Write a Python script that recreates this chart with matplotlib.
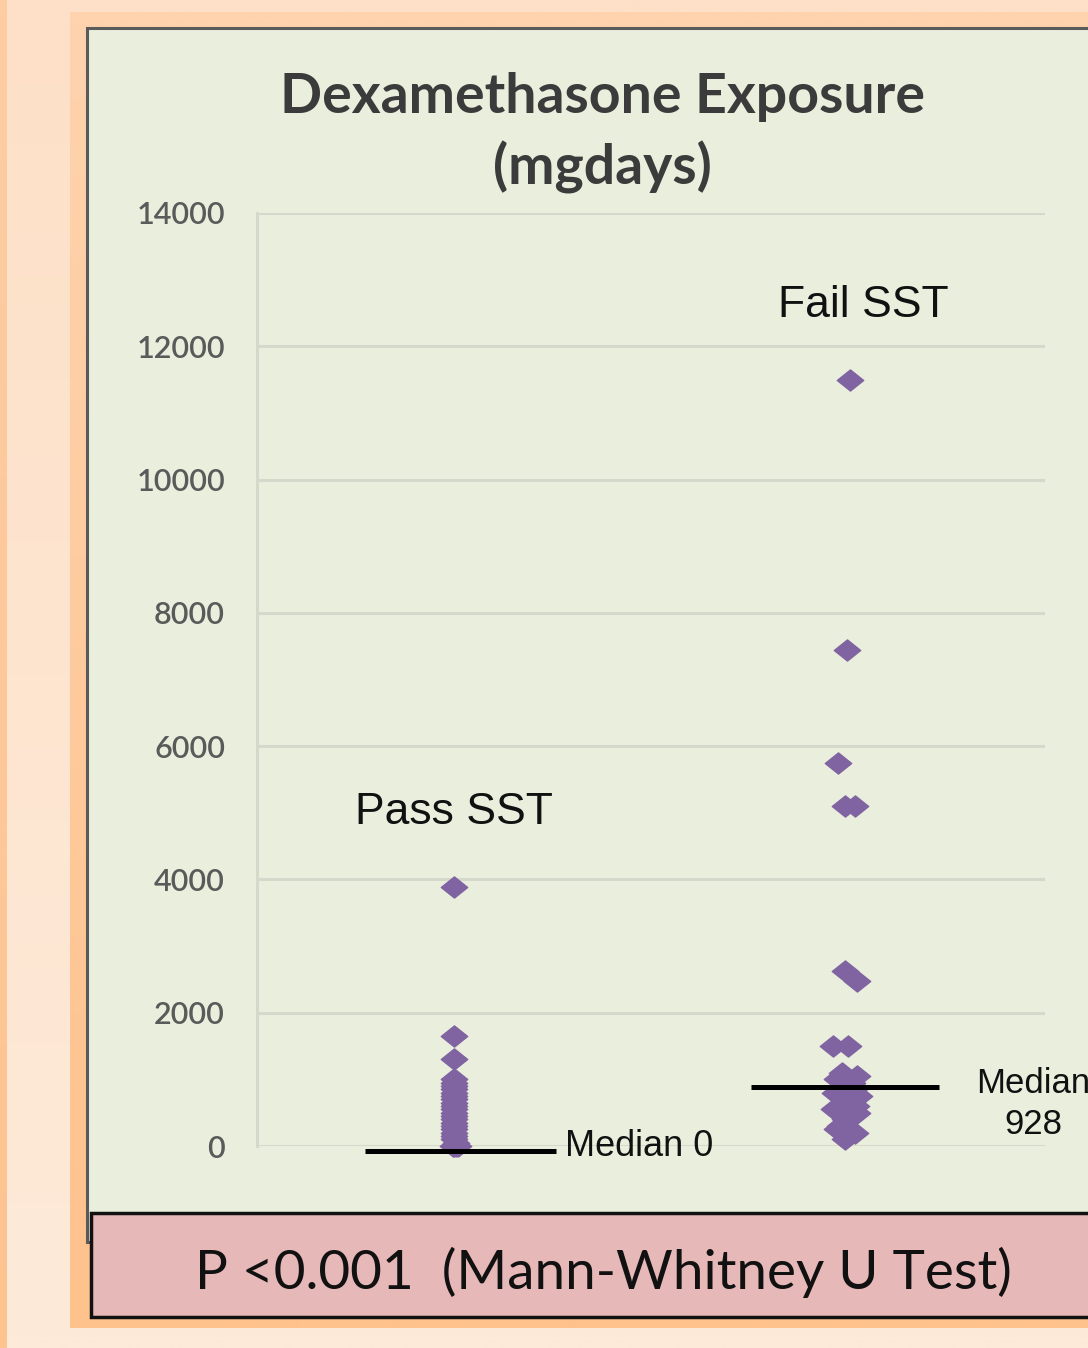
import numpy as np
import matplotlib
matplotlib.use("Agg")
import matplotlib.pyplot as plt
from matplotlib.path import Path
from matplotlib.patches import Rectangle

# ---------------- data ----------------
categories = ["Pass SST", "Fail SST"]
cat_pos = [1, 3]
pass_vals = [3880, 1650, 1300, 1000, 950, 900, 850, 800, 750, 700, 650, 600, 550, 500,
             450, 400, 350, 300, 250, 200, 150, 100, 50, 0, 0, 0, 0]
pass_x = [1.0, 1.0, 1.0, 1.0, 1.0, 1.0, 1.0, 1.0, 1.0, 1.0, 1.0, 1.0, 1.0, 1.0,
          1.0, 1.0, 1.0, 1.0, 1.0, 1.0, 1.0, 1.0, 1.01, 0.995, 1.01, 1.0, 1.02]
fail_vals = [11500, 7450, 5750, 5100, 5100, 2620, 2480, 1500, 1500,
             1100, 1050, 1000, 950, 900, 850, 800, 750, 650, 600, 550, 500, 400, 300,
             250, 200, 100]
fail_x = [3.01, 2.995, 2.95, 2.985, 3.035, 2.985, 3.045, 2.925, 3.0,
          2.97, 3.045, 2.945, 3.02, 2.995, 3.03, 2.935, 3.055, 2.995, 3.04, 2.93, 3.045,
          2.985, 2.96, 2.945, 3.035, 2.985]
medians = [0, 928]
median_labels = ["Median 0", "Median\n928"]
yticks = [0, 2000, 4000, 6000, 8000, 10000, 12000, 14000]
title = "Dexamethasone Exposure\n(mgdays)"
ptext = "P <0.001  (Mann-Whitney U Test)"

W, H = 1088, 1348
fig = plt.figure(figsize=(W / 100, H / 100), dpi=100)

# ---------------- background (pixel coordinates) ----------------
bg = fig.add_axes([0, 0, 1, 1], zorder=0)
bg.set_xlim(0, W)
bg.set_ylim(H, 0)
bg.axis("off")

def grad(x0, y0, x1, y1, ctop, cbot, z):
    ct = np.array(matplotlib.colors.to_rgb(ctop))
    cb = np.array(matplotlib.colors.to_rgb(cbot))
    t = np.linspace(0, 1, 64)[:, None]
    img = (ct * (1 - t) + cb * t)[:, None, :]
    bg.imshow(img, extent=(x0, x1, y1, y0), aspect="auto", zorder=z, interpolation="bilinear")

grad(0, 0, W, H, "#fde0c7", "#feead9", 1)
grad(0, 0, 7, H, "#fdcda4", "#fdc490", 2)
grad(70, 12, W, 1328, "#fed3ae", "#fec28d", 3)
bg.add_patch(Rectangle((87, 28), W - 87 + 5, 1212 - 28 + 30, facecolor="#eaeedd",
                       edgecolor="#5a5a5a", lw=2.2, zorder=4))
bg.add_patch(Rectangle((91, 1213), W - 91 + 10, 1317 - 1213, facecolor="#e6b8b7",
                       edgecolor="#111111", lw=2.5, zorder=5))
bg.set_xlim(0, W)
bg.set_ylim(H, 0)

def fit_text(t, target_w):
    r = fig.canvas.get_renderer()
    w = t.get_window_extent(r).width
    t.set_fontsize(t.get_fontsize() * target_w / w)

# P text
pt = bg.text(603, 1272, ptext, ha="center", va="center", fontsize=30,
             family=["Lato", "DejaVu Sans"], color="#111111", zorder=6)
fit_text(pt, 817)

# Title
tt1 = fig.text(602 / W, 1 - 97 / H, title.split("\n")[0], ha="center", va="center",
               fontsize=30, family=["Lato", "DejaVu Sans"], weight="bold", color="#3b3b3b")
fit_text(tt1, 645)
tt2 = fig.text(602 / W, 1 - 167 / H, title.split("\n")[1], ha="center", va="center",
               fontsize=tt1.get_fontsize(), family=["Lato", "DejaVu Sans"], weight="bold",
               color="#3b3b3b")

# ---------------- main axes ----------------
ax = fig.add_axes([257 / W, 1 - 1146 / H, (1045 - 257) / W, (1146 - 213) / H], zorder=2)
ax.set_facecolor("none")
ax.set_xlim(0, 4)
ax.set_ylim(0, 14000)
ax.set_yticks(yticks)
ax.set_yticklabels([str(v) for v in yticks], family=["Lato", "DejaVu Sans"],
                   fontsize=22, color="#5a5a5a", weight="semibold")
ax.set_xticks([])
ax.tick_params(axis="y", length=0, pad=23)
ax.grid(axis="y", color="#d6d8cc", lw=2.2, zorder=0)
for s in ["top", "right", "bottom"]:
    ax.spines[s].set_visible(False)
ax.spines["left"].set_color("#d6d8cc")
ax.spines["left"].set_linewidth(2.2)

diamond = Path([(0, 1), (1.25, 0), (0, -1), (-1.25, 0), (0, 1)],
               [Path.MOVETO, Path.LINETO, Path.LINETO, Path.LINETO, Path.CLOSEPOLY])
mc = "#8064a2"
ax.plot(pass_x, pass_vals, ls="none", marker=diamond, ms=19, color=mc, mec=mc, zorder=3,
        clip_on=False)
ax.plot(fail_x, fail_vals, ls="none", marker=diamond, ms=19, color=mc, mec=mc, zorder=3,
        clip_on=False)

ax.plot([cat_pos[0] - 0.45, cat_pos[0] + 0.52], [medians[0] - 75, medians[0] - 75],
        color="black", lw=3.6, zorder=4, clip_on=False, solid_capstyle="butt")
ax.plot([cat_pos[1] - 0.49, cat_pos[1] + 0.46], [medians[1] - 40, medians[1] - 40],
        color="black", lw=3.6, zorder=4, clip_on=False, solid_capstyle="butt")

ax.text(1.563, medians[0], median_labels[0], ha="left", va="center", fontsize=26,
        family=["Liberation Sans", "DejaVu Sans"], color="#111111", clip_on=False, zorder=5)
ax.text(3.94, 630, median_labels[1], ha="center", va="center", fontsize=25,
        family=["Liberation Sans", "DejaVu Sans"], color="#111111", clip_on=False,
        linespacing=1.3, zorder=5)

ax.text(1.0, 5010, categories[0], ha="center", va="center", fontsize=32,
        family=["Liberation Sans", "DejaVu Sans"], color="#111111")
ax.text(3.08, 12615, categories[1], ha="center", va="center", fontsize=32,
        family=["Liberation Sans", "DejaVu Sans"], color="#111111")

fig.savefig("out.png", dpi=100)
